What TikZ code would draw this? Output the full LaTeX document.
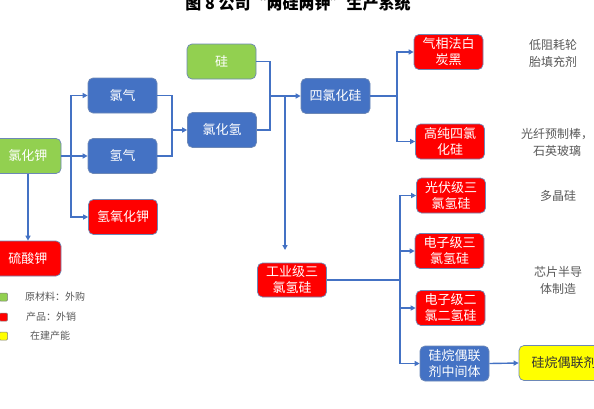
\documentclass[tikz,border=0pt]{standalone}
\usepackage{fontspec}
\setmainfont{Noto Sans CJK SC}
\usetikzlibrary{arrows.meta}
\definecolor{bl}{HTML}{4472C4}
\definecolor{gr}{HTML}{92D050}
\definecolor{rd}{HTML}{FF0000}
\definecolor{yl}{HTML}{FFFF00}
\definecolor{edgec}{HTML}{2F5597}
\definecolor{note}{HTML}{595959}
\tikzset{
  box/.style={rounded corners=5pt, draw=edgec!70, line width=0.7pt, minimum width=69pt, minimum height=35pt,
    text=white, font=\fontsize{13}{16}\selectfont, align=center, inner sep=1pt},
  bbox/.style={box, fill=bl},
  gbox/.style={box, fill=gr},
  rbox/.style={box, fill=rd},
  ybox/.style={box, fill=yl, text=black!80},
  wire/.style={draw=bl, line width=1.4pt},
  arr/.style={wire, -{Triangle[length=5pt,width=5pt]}},
  notetext/.style={text=note, font=\fontsize{12}{17}\selectfont, align=center},
  legsq/.style={draw=gray, line width=0.5pt, rounded corners=1pt, minimum width=8pt, minimum height=8pt, inner sep=0pt},
  legtext/.style={text=note, font=\fontsize{10}{12}\selectfont, anchor=west, inner sep=0pt},
}
\begin{document}
\begin{tikzpicture}[x=1pt,y=-1pt]
\useasboundingbox (0,0) rectangle (594,408);
\fill[white] (0,0) rectangle (594,408);

\node[anchor=base, font=\fontsize{16}{18}\selectfont\bfseries] (title) at (298,9.5) {图\ 8\ 公司“两硅两钾”生产系统};

\node[gbox, minimum width=66pt] (kcl) at (28,156) {氯化钾};
\node[bbox] (cl2) at (122.5,95.5) {氯气};
\node[bbox] (h2) at (122.5,156) {氢气};
\node[rbox] (koh) at (123,217) {氢氧化钾};
\node[rbox, minimum width=66pt] (k2so4) at (28,258.5) {硫酸钾};
\node[gbox] (si) at (221.5,61.5) {硅};
\node[bbox] (hcl) at (222,130) {氯化氢};
\node[bbox] (sicl4) at (335.5,96) {四氯化硅};
\node[rbox] (wt) at (448.5,52) {气相法白\\炭黑};
\node[rbox] (hp) at (450,141.5) {高纯四氯\\化硅};
\node[rbox, minimum height=34pt] (ind) at (292,280) {工业级三\\氯氢硅};
\node[rbox] (pv) at (451,195.5) {光伏级三\\氯氢硅};
\node[rbox] (e3) at (449.5,251) {电子级三\\氯氢硅};
\node[rbox] (e2) at (450.5,308) {电子级二\\氯二氢硅};
\node[bbox] (mid) at (454.5,363.5) {硅烷偶联\\剂中间体};
\node[ybox, minimum width=90pt] (coup) at (564,363) {硅烷偶联剂};

\node[notetext] (n1) at (553,53.5) {低阻耗轮\\胎填充剂};
\node[notetext] (n2) at (557,142) {光纤预制棒，\\石英玻璃};
\node[notetext] (n3) at (558,196) {多晶硅};
\node[notetext] (n4) at (558,280.5) {芯片半导\\体制造};

% connectors
\coordinate (s1) at (71,156);
\draw[wire] (kcl.east) -- (s1);
\draw[arr] (s1) |- (cl2.west);
\draw[arr] (s1) -- (h2.west);
\draw[arr] (s1) |- (koh.west);
\draw[arr] (kcl.south) -- (k2so4.north);

\coordinate (m1) at (172,130);
\draw[wire] (cl2.east) -| (m1);
\draw[wire] (h2.east) -| (m1);
\draw[arr] (m1) -- (hcl.west);

\coordinate (m2) at (270,96);
\draw[wire] (si.east) -| (m2);
\draw[wire] (hcl.east) -| (m2);
\draw[arr] (m2) -- (sicl4.west);
\coordinate (m3) at (285,96);
\coordinate (m4) at (285,250);
\draw[arr] (m3) -- (m4);

\coordinate (s2) at (397,96);
\draw[wire] (sicl4.east) -- (s2);
\draw[arr] (s2) |- (wt.west);
\draw[arr] (s2) |- (hp.west);

\coordinate (s3) at (400,280);
\draw[wire] (ind.east) -- (s3);
\draw[arr] (s3) |- (pv.west);
\draw[arr] (s3) |- (e3.west);
\draw[arr] (s3) |- (e2.west);
\draw[arr] (s3) |- (mid.west);
\draw[arr] (mid.east) -- (coup.west);

% legend
\node[legsq, fill=gr] (l1) at (3.5,297) {};
\node[legsq, fill=rd] (l2) at (3.5,317) {};
\node[legsq, fill=yl] (l3) at (3.5,336) {};
\node[legtext] (t1) at (25,296.5) {原材料：外购};
\node[legtext] (t2) at (26,316.5) {产品：外销};
\node[legtext] (t3) at (30,335.5) {在建产能};
\end{tikzpicture}
\end{document}
